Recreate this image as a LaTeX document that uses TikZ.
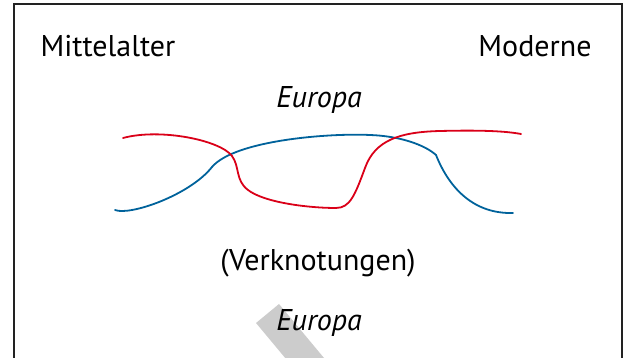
\documentclass[tikz,border=0pt]{standalone}
\usepackage{fontspec}
\setmainfont{PT Sans}
\definecolor{curvered}{RGB}{218,0,24}
\definecolor{curveblue}{RGB}{0,98,155}
\definecolor{framegray}{RGB}{34,34,34}
\definecolor{stripegray}{RGB}{204,204,204}
\begin{document}
\begin{tikzpicture}[x=1pt,y=-1pt,
  lbl/.style={inner sep=0pt, font=\fontsize{30}{34}\selectfont, text=black},
  ilbl/.style={lbl, font=\fontsize{30}{34}\selectfont\itshape},
  curve/.style={line width=1.8pt, line cap=round}]
\useasboundingbox (0,0) rectangle (630,358);
\clip (0,0) rectangle (630,358);
% watermark stripe
\fill[stripegray] (256,323) -- (279,304) -- (349,388) -- (326,407) -- cycle;
% frame
\draw[framegray, line width=2pt] (13.5,400) -- (13.5,4) -- (621.5,4) -- (621.5,400);
% texts
\node[lbl] (ma) at (108,46) {Mittelalter};
\node[lbl] (mo) at (535,46) {Moderne};
\node[ilbl] (eu1) at (319,100) {Europa};
\node[lbl] (vk) at (318,263) {(Verknotungen)};
\node[ilbl] (eu2) at (319,323) {Europa};
% curves
\draw[curve, curveblue] (115,210) .. controls (130,216) and (190,195) .. (212,167)
  .. controls (235,140) and (330,133) .. (370,135)
  .. controls (400,136) and (425,145) .. (436,155)
  .. controls (450,190) and (475,214) .. (513,213);
\draw[curve, curvered] (123,138) .. controls (160,128) and (220,140) .. (232,156)
  .. controls (240,167) and (235,180) .. (248,190)
  .. controls (265,203) and (310,208) .. (336,208)
  .. controls (350,208) and (355,195) .. (365,168)
  .. controls (375,140) and (400,132) .. (440,131)
  .. controls (480,130) and (505,131) .. (521,134);
\end{tikzpicture}
\end{document}
